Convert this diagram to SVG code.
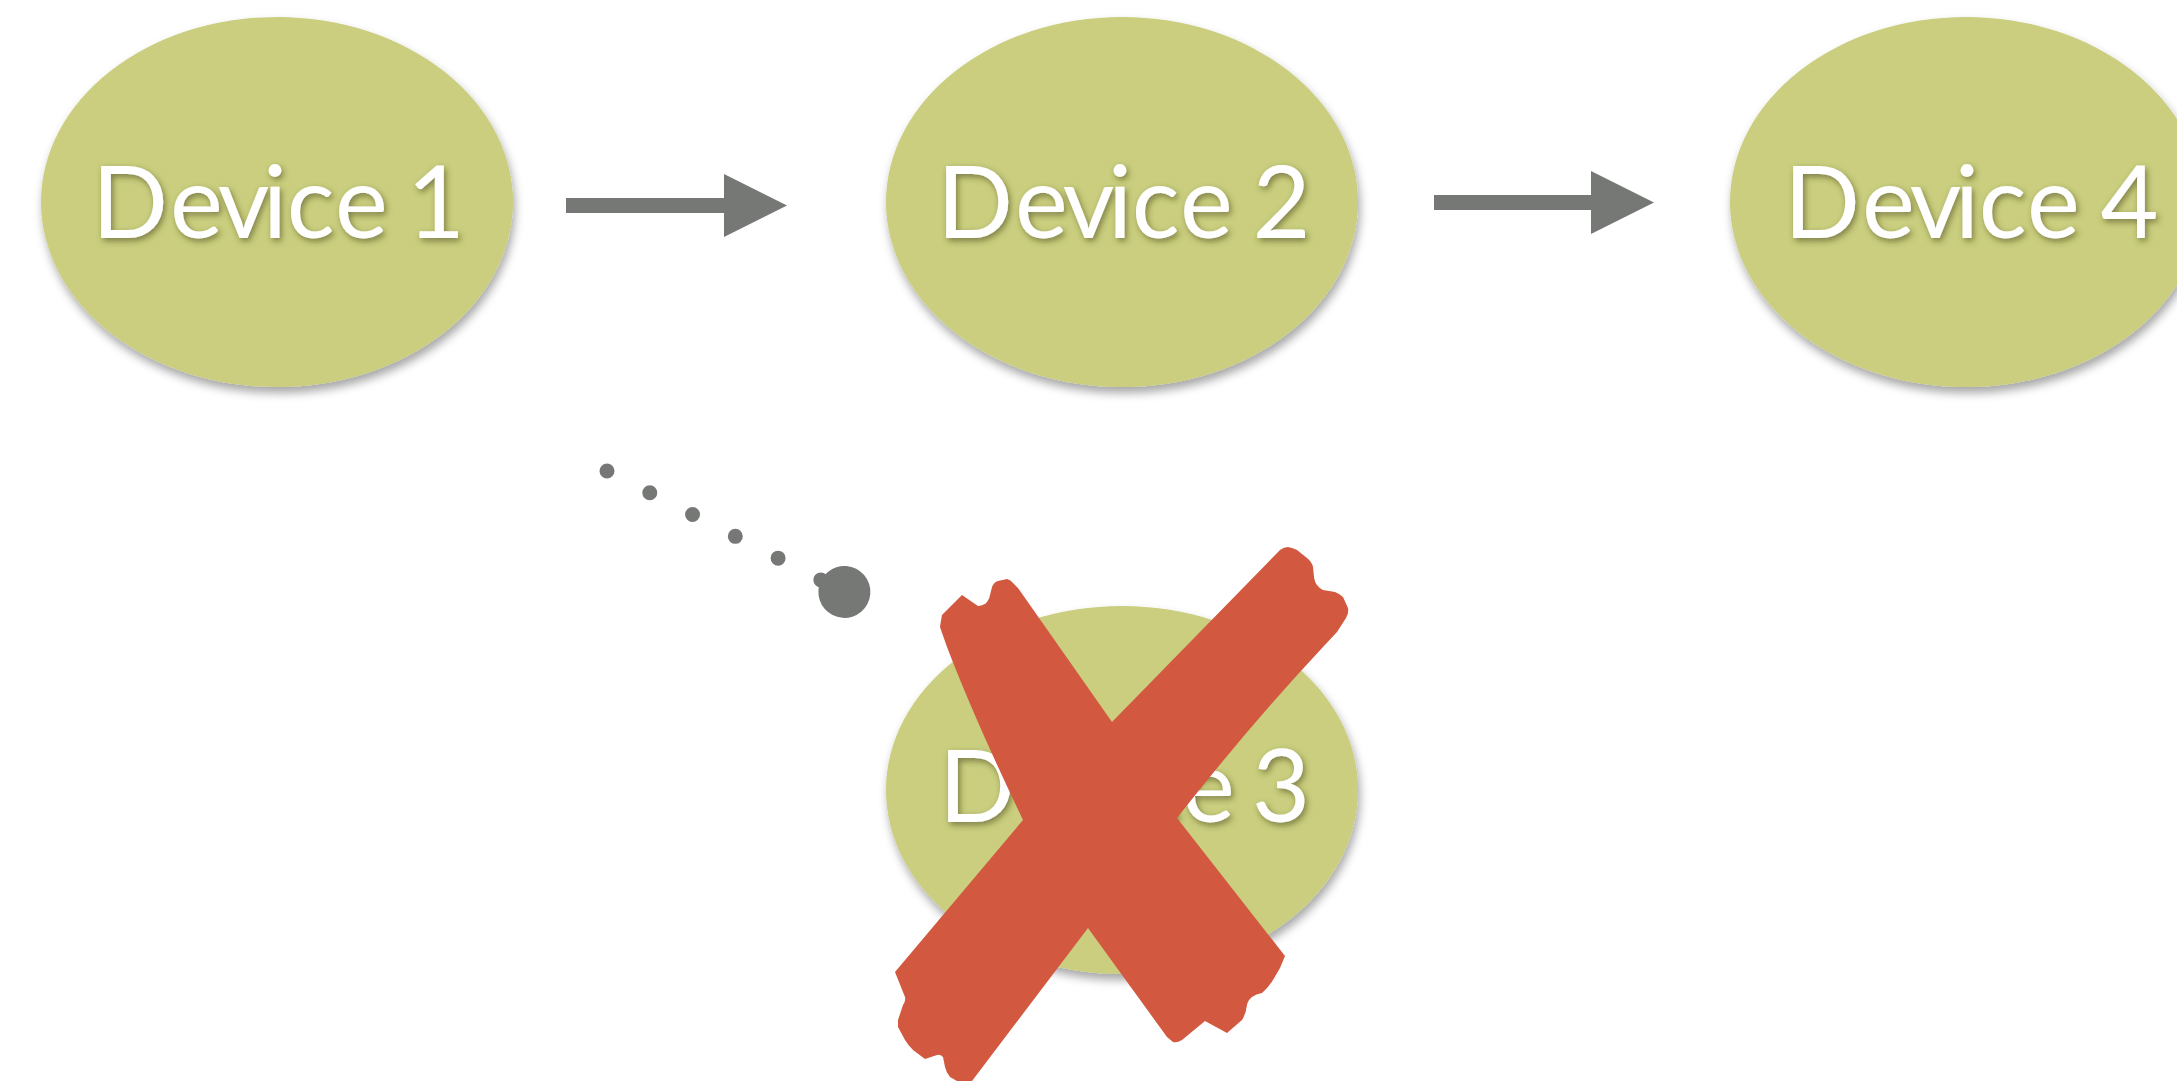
<svg xmlns="http://www.w3.org/2000/svg" width="2177" height="1081" viewBox="0 0 2177 1081">
  <style>
    .node { fill: #CACE7E; filter: url(#nodeShadow); }
    .label { font-family: Lato, "Open Sans", "DejaVu Sans", sans-serif; font-size: 100px; fill: #FFFFFF; text-anchor: middle; filter: url(#textShadow); }
    .flow { stroke: #767876; stroke-width: 15; fill: none; }
    .dotted { stroke: #767876; stroke-width: 15; fill: none; stroke-linecap: round; stroke-dasharray: 0 48; }
    .cross { fill: #D2583F; }
  </style>
  <defs>
    <filter id="nodeShadow" x="-10%" y="-10%" width="125%" height="130%">
      <feDropShadow dx="2" dy="6" stdDeviation="5" flood-color="#000" flood-opacity="0.35"/>
    </filter>
    <filter id="textShadow" x="-10%" y="-20%" width="120%" height="150%">
      <feDropShadow dx="2" dy="3" stdDeviation="3" flood-color="#3a3a10" flood-opacity="0.55"/>
    </filter>
    <marker id="arrowHead" markerUnits="userSpaceOnUse" markerWidth="64" markerHeight="64" viewBox="0 0 64 64" refX="0" refY="31.5" orient="auto">
      <path d="M0,0 L63,31.5 L0,63 Z" fill="#767876"/>
    </marker>
    <marker id="ballEnd" markerUnits="userSpaceOnUse" markerWidth="54" markerHeight="54" viewBox="0 0 54 54" refX="1" refY="27" orient="auto">
      <circle cx="27" cy="27" r="26" fill="#767876"/>
    </marker>
  </defs>

  <rect width="2177" height="1081" fill="#FFFFFF"/>

  <!-- each glyph is placed on its own centre so the airy label spacing is kept -->
  <g id="node-device1">
    <ellipse class="node" cx="277" cy="202" rx="236" ry="185"/>
    <text class="label" x="130 196.5 243.5 275 310.5 361.5 400 436" y="238">Device 1</text>
  </g>
  <g id="node-device2">
    <ellipse class="node" cx="1122" cy="202" rx="236" ry="185"/>
    <text class="label" x="975 1041.5 1088.5 1120 1155.5 1206.5 1245 1281.5" y="238">Device 2</text>
  </g>
  <g id="node-device4">
    <ellipse class="node" cx="1966" cy="202" rx="236" ry="185"/>
    <text class="label" x="1822 1888.5 1935.5 1967 2002.5 2053.5 2090 2129.5" y="238">Device 4</text>
  </g>
  <g id="node-device3">
    <ellipse class="node" cx="1122" cy="790" rx="236" ry="184"/>
    <text class="label" x="977 1043.5 1090.5 1122 1157.5 1208.5 1245 1281" y="822">Device 3</text>
  </g>

  <g id="connectors">
    <line class="flow" x1="566" y1="205.5" x2="724" y2="205.5" marker-end="url(#arrowHead)"/>
    <line class="flow" x1="1434" y1="202.5" x2="1591" y2="202.5" marker-end="url(#arrowHead)"/>
    <line class="dotted" x1="607" y1="471" x2="821.2" y2="580.1" marker-end="url(#ballEnd)"/>
  </g>

  <!-- brush-stroke cross over the failed device -->
  <g id="cross">
    <path class="cross" d="M962,595 L978,606 Q985,605 987,602 Q990,598 990,595 L992,587 Q994,582 998,581 L1007,579
      Q1011,580 1013,583 L1018,588 L1112,722 L1280,550 Q1284,547 1288,547 Q1293,548 1297,550 L1307,558
      Q1312,562 1313,567 L1314,577 Q1315,583 1317,585 Q1320,589 1323,590 L1335,592 Q1340,594 1343,597
      L1348,608 Q1349,613 1346,618 L1337,632 L1323,647 Q1250,725 1177,818 L1285,956 L1280,968 L1273,980
      Q1268,988 1262,993 Q1256,994 1252,997 Q1248,1000 1247,1005 Q1246,1014 1242,1020 L1227,1033
      L1205,1021 L1182,1040 Q1177,1043 1173,1042 L1167,1037 L1088,928 L972,1081 L957,1081 L950,1077
      Q946,1072 945,1067 L943,1057 Q940,1054 937,1055 L925,1059 L913,1050 Q908,1045 905,1040 L898,1027
      L898,1020 L903,1005 Q906,1000 905,997 L895,972 L1023,820 Q975,720 947,647 L940,627 Q941,620 942,615 Z"/>
  </g>
</svg>
